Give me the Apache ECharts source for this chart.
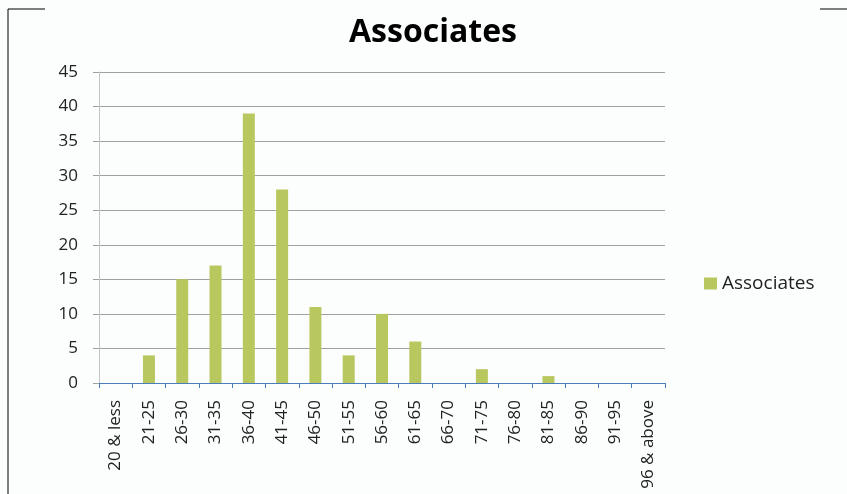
<!DOCTYPE html>
<html>
<head>
<meta charset="utf-8">
<script src="https://cdn.jsdelivr.net/npm/echarts@6/dist/echarts.min.js"></script>
<style>
  html, body { margin: 0; padding: 0; background: #ffffff; }
  #main { width: 847px; height: 494px; }
</style>
</head>
<body>
<div id="main"></div>
<script>
// age bands and head counts
const ageBands = ['20 & less', '21-25', '26-30', '31-35', '36-40', '41-45', '46-50', '51-55',
    '56-60', '61-65', '66-70', '71-75', '76-80', '81-85', '86-90', '91-95', '96 & above'];
const associates = [0, 4, 15, 17, 39, 28, 11, 4, 10, 6, 0, 2, 0, 1, 0, 0, 0];
const yTicks = { min: 0, max: 45, interval: 5 };

const font = 'Open Sans';
const chart = echarts.init(document.getElementById('main'));

const option = {
    backgroundColor: '#fcfdfd',
    animation: false,
    title: {
        text: 'Associates',
        left: 428,
        textAlign: 'center',
        top: 12,
        textStyle: { fontFamily: font, fontSize: 32, fontWeight: 'bold', color: '#000' }
    },
    legend: {
        data: ['Associates'],
        icon: 'rect',
        left: 699,
        top: 269,
        itemWidth: 13,
        itemHeight: 12,
        itemGap: 5,
        textStyle: { fontFamily: font, fontSize: 19, color: '#222' }
    },
    grid: { left: 99, right: 182, top: 72, bottom: 111 },
    xAxis: {
        type: 'category',
        data: ageBands,
        axisLine: { lineStyle: { color: '#4a7ebb', width: 1 } },
        axisTick: { show: true, alignWithLabel: false, length: 5, lineStyle: { color: '#4a7ebb' } },
        axisLabel: {
            rotate: 90,
            interval: 0,
            margin: 17,
            fontFamily: font,
            fontSize: 17,
            color: '#222'
        }
    },
    yAxis: {
        type: 'value',
        min: yTicks.min,
        max: yTicks.max,
        interval: yTicks.interval,
        axisLine: { show: true, lineStyle: { color: '#c4c4c4' } },
        axisTick: { show: true, length: 6, lineStyle: { color: '#a0a0a0' } },
        splitLine: { lineStyle: { color: '#a0a0a0', width: 1 } },
        axisLabel: { fontFamily: font, fontSize: 17, color: '#222', margin: 21 }
    },
    series: [
        {
            name: 'Associates',
            type: 'bar',
            data: associates,
            barWidth: 12,
            itemStyle: { color: '#b9c75f' }
        }
    ],
    graphic: [
        { type: 'line', shape: { x1: 8, y1: 9, x2: 8, y2: 494 }, style: { stroke: '#000', lineWidth: 1 } },
        { type: 'line', shape: { x1: 8, y1: 9, x2: 45, y2: 9 }, style: { stroke: '#000', lineWidth: 1 } },
        { type: 'line', shape: { x1: 820, y1: 9, x2: 847, y2: 9 }, style: { stroke: '#000', lineWidth: 1 } }
    ]
};

chart.setOption(option);
</script>
</body>
</html>
